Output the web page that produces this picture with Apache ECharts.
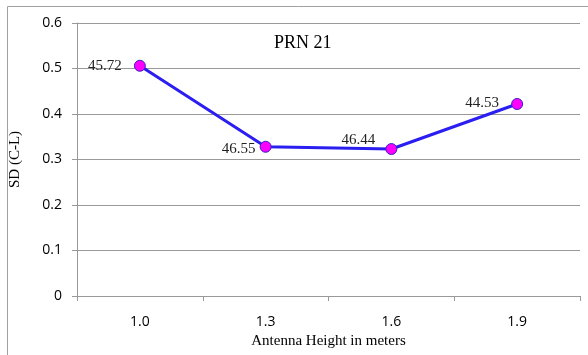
<!DOCTYPE html>
<html>
<head>
<meta charset="utf-8">
<script src="https://cdn.jsdelivr.net/npm/echarts@6/dist/echarts.min.js"></script>
<style>
  html, body { margin: 0; padding: 0; background: #fff; }
  #chart { width: 588px; height: 355px; }
</style>
</head>
<body>
<div id="chart"></div>
<script>
// Antenna heights (m) on the category axis
const heights = ['1.0', '1.3', '1.6', '1.9'];
// Standard deviation of code-minus-carrier for PRN 21
const sdValues = [0.506, 0.328, 0.323, 0.422];
// Values written next to each point
const pointLabels = ['45.72', '46.55', '46.44', '44.53'];
// Where each point's text sits, relative to the marker
const labelOffsets = [[-35, 0], [-27, 2], [-33, -9], [-35, -1]];

const chart = echarts.init(document.getElementById('chart'));

const seriesData = sdValues.map((v, i) => ({
  value: v,
  label: { offset: labelOffsets[i], formatter: pointLabels[i] }
}));

chart.setOption({
  animation: false,
  backgroundColor: '#ffffff',
  graphic: [{
    type: 'rect',
    shape: { x: 7.5, y: 6.5, width: 600, height: 400 },
    style: { fill: 'none', stroke: '#a0a0a0', lineWidth: 1 },
    silent: true
  }, {
    type: 'text',
    left: 274,
    top: 34,
    style: { text: 'PRN 21', font: '18px "Liberation Serif", serif', fill: '#000' }
  }],
  grid: { left: 75, right: 8, top: 23, bottom: 59 },
  xAxis: {
    type: 'category',
    data: heights,
    boundaryGap: true,
    name: 'Antenna Height in meters',
    nameLocation: 'middle',
    nameGap: 32,
    nameTextStyle: { fontFamily: '"Liberation Serif", serif', fontSize: 15, color: '#000' },
    axisLine: { lineStyle: { color: '#999', width: 1 } },
    axisTick: { show: true, length: 5, lineStyle: { color: '#999' } },
    axisLabel: { margin: 19, fontFamily: '"Open Sans", "Liberation Sans", sans-serif', fontSize: 14, color: '#000' }
  },
  yAxis: {
    type: 'value',
    min: 0,
    max: 0.6,
    interval: 0.1,
    name: 'SD (C-L)',
    nameLocation: 'middle',
    nameGap: 54,
    nameTextStyle: { fontFamily: '"Liberation Serif", serif', fontSize: 15, color: '#000' },
    axisLine: { show: true, lineStyle: { color: '#999', width: 1 } },
    axisTick: { show: true, length: 5, lineStyle: { color: '#999' } },
    axisLabel: {
      margin: 15,
      fontFamily: '"Open Sans", "Liberation Sans", sans-serif',
      fontSize: 14,
      color: '#000',
      formatter: v => (v === 0 ? '0' : v.toFixed(1))
    },
    splitLine: { show: true, lineStyle: { color: '#999', width: 1 } }
  },
  series: [{
    type: 'line',
    data: seriesData,
    symbol: 'circle',
    symbolSize: 11,
    lineStyle: { color: '#2a1ef0', width: 3 },
    itemStyle: { color: '#ff00ff', borderColor: '#3a22c8', borderWidth: 1 },
    label: {
      show: true,
      position: 'inside',
      fontFamily: '"Liberation Serif", serif',
      fontSize: 15,
      color: '#222'
    }
  }]
});
</script>
</body>
</html>
